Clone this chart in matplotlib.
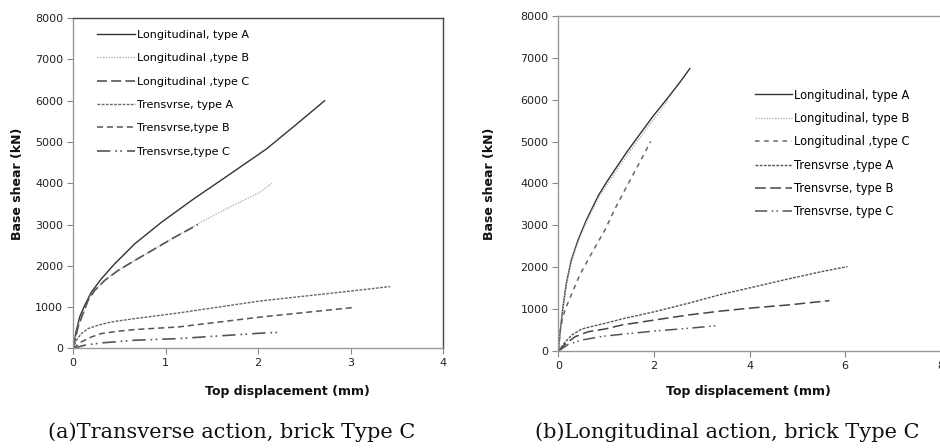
import numpy as np
import matplotlib
matplotlib.use("Agg")
import matplotlib.pyplot as plt

plt.rcParams['font.family'] = ['DejaVu Sans']

# ---- (a) transverse action, brick type C ----
a_long_a_x = [0, 0.036, 0.072, 0.126, 0.199, 0.307, 0.451, 0.668, 0.957, 1.30, 1.65, 2.09, 2.40, 2.72]
a_long_a_y = [0, 440, 763, 1046, 1367, 1690, 2053, 2536, 3058, 3615, 4150, 4830, 5400, 6000]

a_long_b_x = [0, 0.054, 0.108, 0.163, 0.235, 0.343, 0.488, 0.668, 0.885, 1.10, 1.35, 1.70, 2.02, 2.15]
a_long_b_y = [0, 522, 845, 1167, 1408, 1650, 1891, 2133, 2415, 2696, 3020, 3430, 3780, 4000]

a_long_c_x = [0, 0.054, 0.108, 0.163, 0.235, 0.343, 0.488, 0.668, 0.885, 1.10, 1.35]
a_long_c_y = [0, 522, 845, 1167, 1408, 1650, 1891, 2133, 2415, 2696, 3000]

a_trans_a_x = [0, 0.036, 0.09, 0.163, 0.271, 0.415, 0.668, 1.14, 2.02, 3.0, 3.43]
a_trans_a_y = [0, 200, 362, 483, 563, 643, 725, 860, 1150, 1390, 1500]

a_trans_b_x = [0, 0.09, 0.199, 0.307, 0.488, 0.668, 1.14, 2.02, 3.02]
a_trans_b_y = [0, 160, 280, 362, 418, 459, 522, 760, 990]

a_trans_c_x = [0, 0.126, 0.307, 0.668, 1.14, 2.02, 2.26]
a_trans_c_y = [0, 80, 135, 200, 240, 370, 395]

# ---- (b) longitudinal action, brick type C ----
b_long_a_x = [0, 0.042, 0.098, 0.168, 0.272, 0.412, 0.585, 0.84, 1.01, 1.22, 1.43, 1.71, 1.99, 2.27, 2.54, 2.75]
b_long_a_y = [0, 510, 1064, 1620, 2173, 2648, 3123, 3717, 4033, 4390, 4746, 5183, 5618, 6014, 6409, 6741]

b_long_b_x = [0, 0.042, 0.098, 0.168, 0.272, 0.412, 0.585, 0.84, 1.01, 1.22, 1.43, 1.71, 1.99, 2.30]
b_long_b_y = [0, 500, 1040, 1590, 2130, 2600, 3070, 3650, 3960, 4310, 4660, 5090, 5520, 5990]

b_long_c_x = [0, 0.04, 0.09, 0.14, 0.25, 0.46, 0.74, 0.98, 1.20, 1.45, 1.70, 1.93]
b_long_c_y = [0, 480, 800, 975, 1290, 1845, 2420, 2900, 3430, 3970, 4500, 5000]

b_trans_a_x = [0, 0.14, 0.28, 0.49, 0.63, 0.98, 1.33, 2.02, 2.72, 3.42, 4.12, 4.81, 5.51, 6.05]
b_trans_a_y = [0, 207, 382, 526, 566, 662, 765, 940, 1140, 1355, 1537, 1720, 1895, 2015]

b_trans_b_x = [0, 0.14, 0.35, 0.63, 0.98, 1.33, 2.02, 2.72, 3.42, 4.12, 4.81, 5.67]
b_trans_b_y = [0, 160, 342, 462, 526, 621, 741, 860, 956, 1035, 1099, 1202]

b_trans_c_x = [0, 0.21, 0.49, 0.98, 1.33, 2.02, 2.72, 3.33]
b_trans_c_y = [0, 160, 263, 358, 399, 478, 542, 605]

a_labels = ["Longitudinal, type A", "Longitudinal ,type B", "Longitudinal ,type C",
            "Trensvrse, type A", "Trensvrse,type B", "Trensvrse,type C"]
b_labels = ["Longitudinal, type A", "Longitudinal, type B", "Longitudinal ,type C",
            "Trensvrse ,type A", "Trensvrse, type B", "Trensvrse, type C"]

fig = plt.figure(figsize=(9.4, 4.48), dpi=100)
ax1 = fig.add_axes([0.0777, 0.2221, 0.3936, 0.7375])
ax2 = fig.add_axes([0.594, 0.2165, 0.4068, 0.7482])


def style_axes(ax, xmax, xstep, frame_color):
    ax.set_xlim(0, xmax)
    ax.set_ylim(0, 8000)
    ax.set_xticks(np.arange(0, xmax + 0.1, xstep))
    ax.set_yticks(np.arange(0, 8001, 1000))
    ax.tick_params(direction='out', length=4, width=0.8, color='#888888',
                   labelsize=8, labelcolor='#222222', pad=3)
    ax.spines['left'].set_color('#999999')
    ax.spines['bottom'].set_color('#999999')
    ax.spines['top'].set_color(frame_color)
    ax.spines['right'].set_color(frame_color)
    for s in ax.spines.values():
        s.set_linewidth(1.0)


# panel (a)
ax1.plot(a_long_a_x, a_long_a_y, color='#333333', lw=1.0, label=a_labels[0])
ax1.plot(a_long_b_x, a_long_b_y, color='#b5b5b5', lw=1.0, ls=(0, (1, 1)), label=a_labels[1])
ax1.plot(a_long_c_x, a_long_c_y, color='#555555', lw=1.2, ls=(0, (6, 2.5)), label=a_labels[2])
ax1.plot(a_trans_a_x, a_trans_a_y, color='#666666', lw=1.0, ls=(0, (2, 1)), label=a_labels[3])
ax1.plot(a_trans_b_x, a_trans_b_y, color='#555555', lw=1.1, ls=(0, (4, 2.5)), label=a_labels[4])
ax1.plot(a_trans_c_x, a_trans_c_y, color='#555555', lw=1.2, ls=(0, (8, 3, 1, 2, 1, 3)), label=a_labels[5])
style_axes(ax1, 4, 1, '#444444')
ax1.legend(loc='upper left', bbox_to_anchor=(97 / 940, 1 - 30 / 448), bbox_transform=fig.transFigure,
           frameon=False, fontsize=8, handlelength=3.4, handletextpad=0.2, labelspacing=1.2,
           borderpad=0, borderaxespad=0)

# panel (b)
ax2.plot(b_long_a_x, b_long_a_y, color='#333333', lw=1.0, label=b_labels[0])
ax2.plot(b_long_b_x, b_long_b_y, color='#b5b5b5', lw=1.0, ls=(0, (1, 1)), label=b_labels[1])
ax2.plot(b_long_c_x, b_long_c_y, color='#666666', lw=1.1, ls=(0, (3, 3)), label=b_labels[2])
ax2.plot(b_trans_a_x, b_trans_a_y, color='#555555', lw=1.0, ls=(0, (2, 1)), label=b_labels[3])
ax2.plot(b_trans_b_x, b_trans_b_y, color='#444444', lw=1.1, ls=(0, (7, 3)), label=b_labels[4])
ax2.plot(b_trans_c_x, b_trans_c_y, color='#555555', lw=1.1, ls=(0, (8, 3, 1, 2, 1, 3)), label=b_labels[5])
style_axes(ax2, 8, 2, '#999999')
ax2.legend(loc='upper left', bbox_to_anchor=(755 / 940, 1 - 88.5 / 448), bbox_transform=fig.transFigure,
           frameon=False, fontsize=8.3, handlelength=3.2, handletextpad=0.2, labelspacing=0.9,
           borderpad=0, borderaxespad=0)

# axis titles
fig.text(18 / 940, 1 - 184 / 448, 'Base shear (kN)', rotation=90, ha='center', va='center',
         fontsize=9, fontweight='bold', color='#111111')
fig.text(489 / 940, 1 - 184 / 448, 'Base shear (kN)', rotation=90, ha='center', va='center',
         fontsize=9, fontweight='bold', color='#111111')
fig.text(287 / 940, 1 - 391 / 448, 'Top displacement (mm)', ha='center', va='center',
         fontsize=9, fontweight='bold', color='#111111')
fig.text(748 / 940, 1 - 391 / 448, 'Top displacement (mm)', ha='center', va='center',
         fontsize=9, fontweight='bold', color='#111111')

# captions
fig.text(232 / 940, 1 - 432 / 448, '(a)Transverse action, brick Type C', ha='center', va='center',
         fontsize=15, family='DejaVu Serif', color='#111111')
fig.text(727 / 940, 1 - 432 / 448, '(b)Longitudinal action, brick Type C', ha='center', va='center',
         fontsize=15, family='DejaVu Serif', color='#111111')

fig.savefig('out.png', dpi=100)
